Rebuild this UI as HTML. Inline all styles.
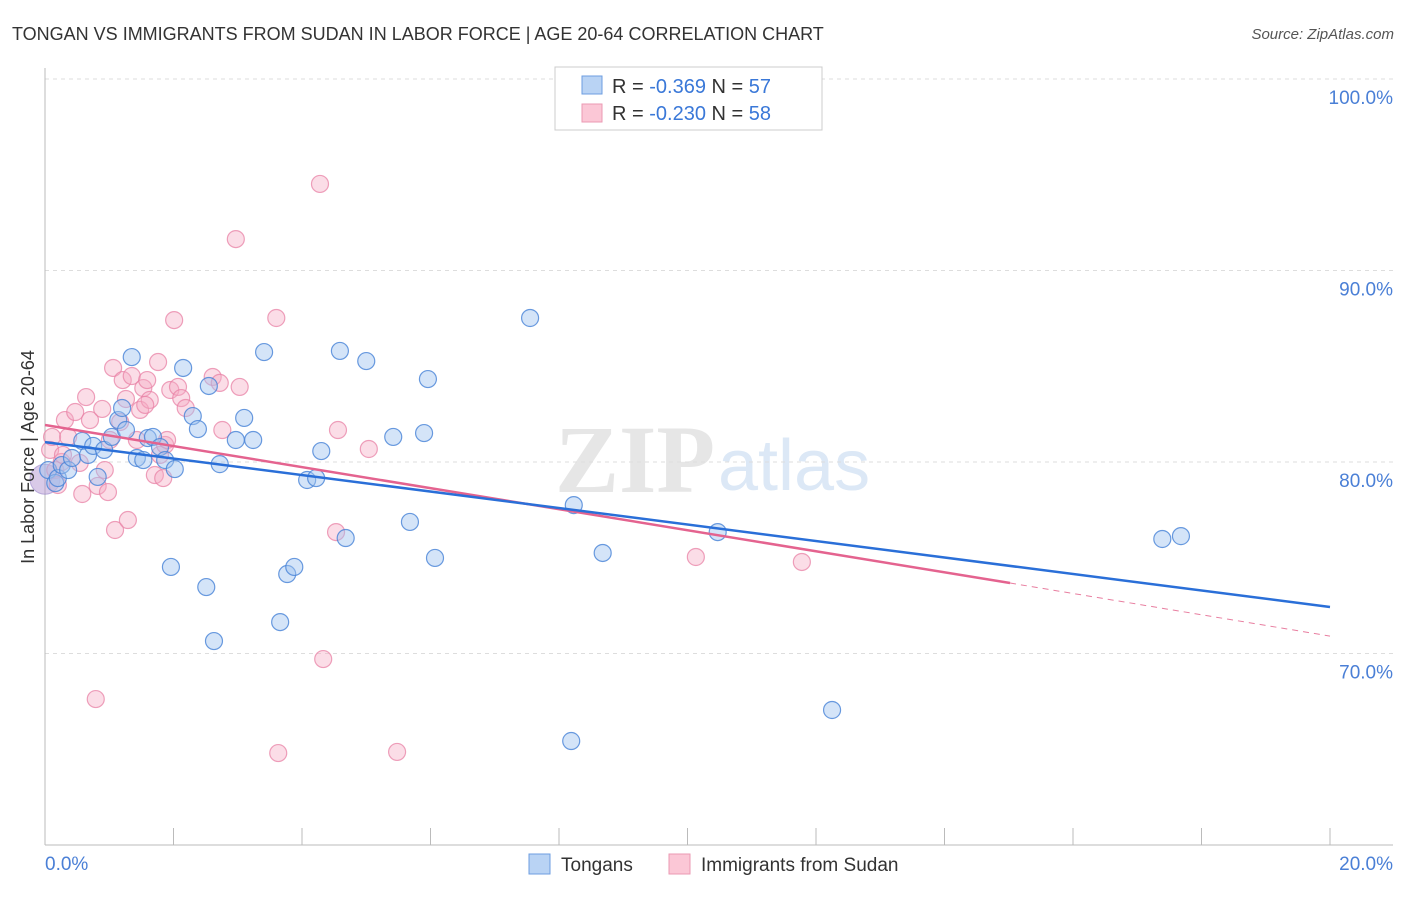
<!DOCTYPE html>
<html><head><meta charset="utf-8"><style>
body{margin:0;background:#fff;font-family:"Liberation Sans",sans-serif}
</style></head><body>
<svg id="c" width="1406" height="892" xmlns="http://www.w3.org/2000/svg" style="font-family:'Liberation Sans',sans-serif">
<text x="12" y="40" font-size="18" fill="#333">TONGAN VS IMMIGRANTS FROM SUDAN IN LABOR FORCE | AGE 20-64 CORRELATION CHART</text>
<text x="1394" y="39" font-size="15" fill="#555" font-style="italic" text-anchor="end">Source: ZipAtlas.com</text>
<text x="555" y="492" font-size="96" fill="#e6e6e6" font-family="Liberation Serif" font-weight="bold">ZIP</text>
<text x="718" y="490" font-size="72" fill="#dce8f6">atlas</text>
<g id="grid"></g><g id="pts"></g><g id="lines"></g>
<text transform="translate(34,457) rotate(-90)" font-size="18" fill="#333" text-anchor="middle">In Labor Force | Age 20-64</text>
<g>
<rect x="555" y="67" width="267" height="63" fill="#fff" stroke="#ccc"/>
<rect x="582" y="76" width="20" height="18" fill="#b9d3f4" stroke="#6d9ee0"/>
<rect x="582" y="104" width="20" height="18" fill="#fbc7d6" stroke="#eb9ab3"/>
<text x="612" y="93" font-size="20" fill="#333">R = <tspan fill="#3a78d8">-0.369</tspan>   N = <tspan fill="#3a78d8">57</tspan></text>
<text x="612" y="120" font-size="20" fill="#333">R = <tspan fill="#3a78d8">-0.230</tspan>   N = <tspan fill="#3a78d8">58</tspan></text>
</g>
<g>
<rect x="529" y="854" width="21" height="20" fill="#b9d3f4" stroke="#6d9ee0"/>
<text x="561" y="871" font-size="19" fill="#333">Tongans</text>
<rect x="669" y="854" width="21" height="20" fill="#fbc7d6" stroke="#eb9ab3"/>
<text x="701" y="871" font-size="19" fill="#333">Immigrants from Sudan</text>
</g>
</svg>
<script>
const yTicks=[100,90,80,70];
const xTickLabels=["0.0%","20.0%"];
const blueX=[0.05,0.16,0.20,0.26,0.36,0.42,0.58,0.67,0.75,0.82,0.92,1.04,1.14,1.20,1.26,1.35,1.43,1.53,1.60,1.68,1.79,1.87,1.96,2.02,2.15,2.30,2.38,2.51,2.55,2.63,2.72,2.97,3.10,3.24,3.41,3.66,3.77,3.88,4.08,4.22,4.30,4.59,4.68,5.00,5.42,5.68,5.90,5.96,6.07,7.55,8.19,8.23,8.68,10.47,12.25,17.39,17.68];
const blueY=[79.58,78.90,79.16,79.84,79.58,80.21,81.10,80.37,80.84,79.22,80.63,81.31,82.19,82.82,81.67,85.48,80.21,80.10,81.25,81.31,80.78,80.10,74.52,79.63,84.91,82.40,81.72,73.47,83.97,70.65,79.89,81.15,82.30,81.15,85.74,71.64,74.15,74.52,79.06,79.16,80.57,85.80,76.03,85.27,81.31,76.87,81.51,84.33,74.99,87.52,65.43,77.75,75.25,76.34,67.05,75.98,76.13];
const pinkX=[0.08,0.11,0.16,0.20,0.26,0.31,0.36,0.47,0.54,0.58,0.64,0.70,0.79,0.82,0.89,0.93,0.98,1.06,1.09,1.17,1.21,1.26,1.29,1.35,1.43,1.48,1.53,1.59,1.63,1.71,1.76,1.79,1.84,1.87,1.90,1.95,2.01,2.07,2.12,2.19,2.61,2.72,2.76,2.97,3.03,3.60,3.63,4.28,4.33,4.53,4.56,5.04,5.48,10.13,11.78,0.28,1.01,1.56];
const pinkY=[80.63,81.31,79.58,78.80,80.00,82.19,81.31,82.61,79.95,78.33,83.39,82.19,67.62,78.75,82.77,79.58,78.43,84.91,76.45,82.09,84.28,83.29,76.97,84.49,81.15,82.72,83.86,84.28,83.24,79.32,85.22,80.37,79.16,80.89,81.15,83.76,87.41,83.92,83.34,82.82,84.44,84.13,81.67,91.64,83.92,87.52,64.80,94.52,69.71,76.34,81.67,80.68,64.86,75.04,74.78,80.37,81.15,82.98];
const blueTrend=[[0,81.04],[20,72.43]];
const pinkTrendSolid=[[0,81.93],[15.02,73.68]];
const pinkTrendDash=[[15.02,73.68],[20,70.91]];
const NS="http://www.w3.org/2000/svg";
const X=v=>45+v/20*1285, Y=v=>79+(100-v)*19.15;
function mk(t,a,p){const e=document.createElementNS(NS,t);for(const k in a)e.setAttribute(k,a[k]);p.appendChild(e);return e;}
const g=document.getElementById('grid');
yTicks.forEach(t=>{const l=mk('line',{x1:45,x2:1393,y1:Y(t),y2:Y(t),stroke:'#ddd','stroke-dasharray':'4,4'},g);


const tx=mk('text',{x:1393,y:Y(t)+25,'font-size':19,fill:'#4a7fd6','text-anchor':'end'},g);tx.textContent=t.toFixed(1)+'%';

});
const ax=mk('line',{x1:45,x2:45,y1:68,y2:845,stroke:'#bbb'},g);


const bx=mk('line',{x1:45,x2:1393,y1:845,y2:845,stroke:'#bbb'},g);


for(let i=0;i<=10;i++){const tk=mk('line',{x1:X(i*2),x2:X(i*2),y1:828,y2:845,stroke:'#bbb'},g);

}
[[0,'start',45],[1,'end',1393]].forEach(([i,a,x])=>{const t=mk('text',{x:x,y:870,'font-size':19,fill:'#4a7fd6','text-anchor':a},g);t.textContent=xTickLabels[i];

});
const p=document.getElementById('pts');
const big=mk('circle',{cx:X(0),cy:Y(79.1),r:15,fill:'rgba(180,150,210,0.5)',stroke:'rgba(150,130,200,0.6)'},p);


pinkX.forEach((x,i)=>{const c=mk('circle',{cx:X(x),cy:Y(pinkY[i]),r:8.5,fill:'rgba(246,170,195,0.4)',stroke:'rgba(232,130,165,0.75)','stroke-width':1.2},p);

});
blueX.forEach((x,i)=>{const c=mk('circle',{cx:X(x),cy:Y(blueY[i]),r:8.5,fill:'rgba(160,195,240,0.45)',stroke:'rgba(70,130,215,0.8)','stroke-width':1.2},p);

});
const L=document.getElementById('lines');
function ln(d,col,w,dash,name){const l=mk('line',{x1:X(d[0][0]),y1:Y(d[0][1]),x2:X(d[1][0]),y2:Y(d[1][1]),stroke:col,'stroke-width':w},L);if(dash)l.setAttribute('stroke-dasharray',dash);

}
ln(pinkTrendDash,'#e87ea0',1,'6,5','sudan-trend-dashed');
ln(pinkTrendSolid,'#e4638f',2.5,null,'sudan-trend-line');
ln(blueTrend,'#2a6fd8',2.5,null,'tongan-trend-line');
</script>
</body></html>
